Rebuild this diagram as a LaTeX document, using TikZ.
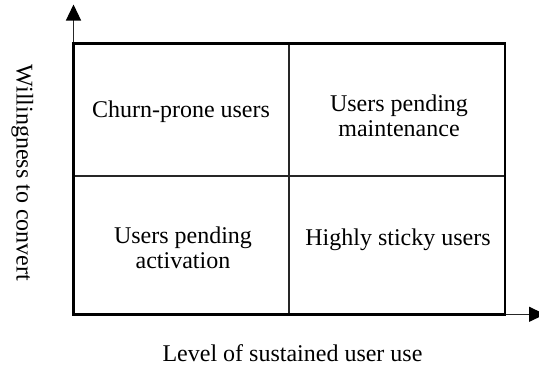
\documentclass[tikz,border=0pt]{standalone}
\usepackage{fontspec}
\setmainfont{Liberation Serif}
\usetikzlibrary{arrows.meta}
\begin{document}
\begin{tikzpicture}[x=1pt,y=-1pt,
  lbl/.style={font=\fontsize{24}{25.5}\selectfont, align=center, inner sep=0pt},
  frame/.style={draw=black, line width=2.6pt},
  divider/.style={draw=black!85, line width=1.4pt},
  axis/.style={draw=black!85, line width=1.3pt, -{Triangle[length=16pt,width=15pt,color=black]}}]
\useasboundingbox (0,0) rectangle (539,367);
% coordinates
\coordinate (O) at (73.5,314.3);
\coordinate (TL) at (73.5,43.5);
\coordinate (BR) at (505,314.3);
\coordinate (ytip) at (73.5,4.5);
\coordinate (xtip) at (545,314.3);
\coordinate (mt) at (289,43.5);
\coordinate (mb) at (289,314.3);
\coordinate (ml) at (73.5,176);
\coordinate (mr) at (505,176);
% axes
\draw[axis] (O) -- (ytip);
\draw[axis] (O) -- (xtip);
% dividers
\draw[divider] (mt) -- (mb);
\draw[divider] (ml) -- (mr);
% frame
\draw[frame] (TL) rectangle (BR);
% quadrant labels
\node[lbl] (q1) at (181,112) {Churn-prone users};
\node[lbl] (q2) at (399,116) {Users pending\\maintenance};
\node[lbl] (q3) at (183,248) {Users pending\\activation};
\node[lbl] (q4) at (398,240) {Highly sticky users};
% axis labels
\node[lbl, anchor=base] (xl) at (292.5,361) {Level of sustained user use};
\node[lbl, rotate=-90, anchor=base] (yl) at (16.5,173) {Willingness to convert};
\end{tikzpicture}
\end{document}
